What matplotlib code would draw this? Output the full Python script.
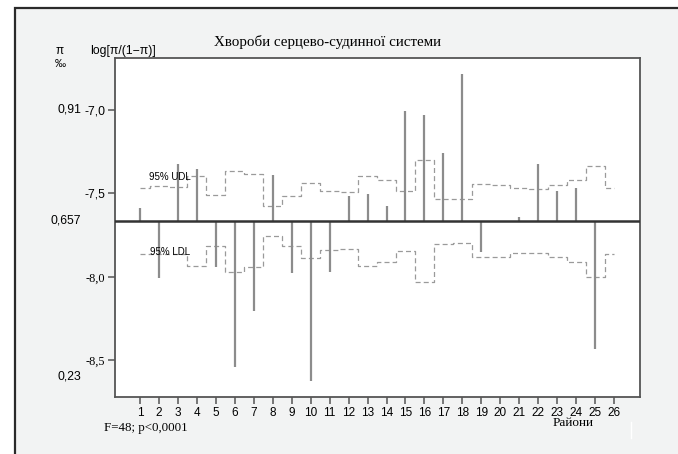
import numpy as np
import matplotlib
matplotlib.use("Agg")
import matplotlib.pyplot as plt
from matplotlib.patches import Rectangle
from matplotlib.lines import Line2D

# district numbers and log-odds values
districts = np.arange(1, 27)
logit = [-7.587, -8.004, -7.325, -7.355, -7.938, -8.537, -8.202, -7.389, -7.978,
         -8.625, -7.972, -7.515, -7.503, -7.573, -7.006, -7.030, -7.257, -6.786,
         -7.848, -7.665, -7.643, -7.323, -7.483, -7.469, -8.429, -7.665]
udl = [-7.469, -7.455, -7.461, -7.393, -7.509, -7.363, -7.385, -7.575, -7.513,
       -7.439, -7.485, -7.493, -7.393, -7.419, -7.485, -7.299, -7.531, -7.531,
       -7.445, -7.447, -7.469, -7.473, -7.449, -7.419, -7.335, -7.469]
ldl = [-7.862, -7.862, -7.862, -7.934, -7.814, -7.968, -7.942, -7.753, -7.814,
       -7.888, -7.838, -7.834, -7.934, -7.912, -7.843, -8.028, -7.804, -7.798,
       -7.878, -7.882, -7.858, -7.854, -7.878, -7.908, -7.998, -7.864]
center = -7.665

yticks = [-7.0, -7.5, -8.0, -8.5]
ytick_labels = ["-7,0", "-7,5", "-8,0", "-8,5"]
# prevalence (per mille) labels on the far left, with their log-odds heights
pi_labels = ["0,91", "0,657", "0,23"]
pi_pos = [-7.0, -7.665, -8.596]

W, H = 678, 454
fig = plt.figure(figsize=(W / 100, H / 100), dpi=100, facecolor="white")

def fx(px):
    return px / W

def fy(py):
    return 1 - py / H

# grey panel with dark frame (left and top edges visible)
fig.patches.append(Rectangle((fx(15), -0.1), 1.0, fy(8) + 0.1, transform=fig.transFigure,
                             facecolor="#f2f3f3", edgecolor="#2a2a2a", lw=1.6, zorder=-10))

ax = fig.add_axes([fx(115), fy(397), fx(640) - fx(115), fy(58) - fy(397)])
ax.set_facecolor("white")
ax.set_xlim(-0.32, 27.37)
ax.set_ylim(-8.719, -6.689)

ax.vlines(districts, center, logit, color="#8c8c8c", lw=1.6, zorder=2)
ax.axhline(center, color="#333333", lw=1.8, zorder=3)
ax.step(districts, udl, where="mid", color="#9a9a9a", lw=0.9, ls=(0, (4, 2.5)), zorder=1)
ax.step(districts, ldl, where="mid", color="#9a9a9a", lw=0.9, ls=(0, (4, 2.5)), zorder=1)

ax.text(2.6, -7.40, "95% UDL", fontsize=7, family="Liberation Sans", ha="center", va="center")
ax.text(2.6, -7.851, "95% LDL", fontsize=7, family="Liberation Sans", ha="center", va="center")

for s in ax.spines.values():
    s.set_color("#555555")
    s.set_linewidth(1.3)

ax.set_xticks(districts)
ax.set_xticklabels([str(d) for d in districts], family="Liberation Sans", fontsize=8.5)
ax.set_yticks(yticks)
ax.set_yticklabels(ytick_labels, fontsize=8.8)
for lab, fam in zip(ax.get_yticklabels(), ["Liberation Sans", "Liberation Sans",
                                            "Liberation Serif", "Liberation Serif"]):
    lab.set_family(fam)
ax.tick_params(axis="both", color="#555555", length=5, width=1.1, pad=2)

fig.text(fx(327), fy(42), "Хвороби серцево-судинної системи", family="Liberation Serif",
         fontsize=10.8, ha="center", va="center")
fig.text(fx(60), fy(51), "π", family="Liberation Sans", fontsize=8.5, ha="center", va="center")
fig.text(fx(60), fy(64), "‰", family="Liberation Sans", fontsize=8, ha="center", va="center")
fig.text(fx(90), fy(51), "log[π/(1−π)]", family="Liberation Sans", fontsize=8.8,
         ha="left", va="center")

for lab, v in zip(pi_labels, pi_pos):
    ax.annotate(lab, xy=(0, v), xycoords=("axes fraction", "data"), xytext=(-34, 0),
                textcoords="offset pixels", ha="right", va="center",
                family="Liberation Sans", fontsize=8.8)

fig.text(fx(104), fy(428), "F=48; p<0,0001", family="Liberation Serif", fontsize=9.3,
         ha="left", va="center")
fig.text(fx(573), fy(423), "Райони", family="Liberation Serif", fontsize=9.5,
         ha="center", va="center")

fig.add_artist(Line2D([fx(631), fx(631)], [fy(422), fy(438)], color="white", lw=1,
                      transform=fig.transFigure))

fig.savefig("out.png", dpi=100)
